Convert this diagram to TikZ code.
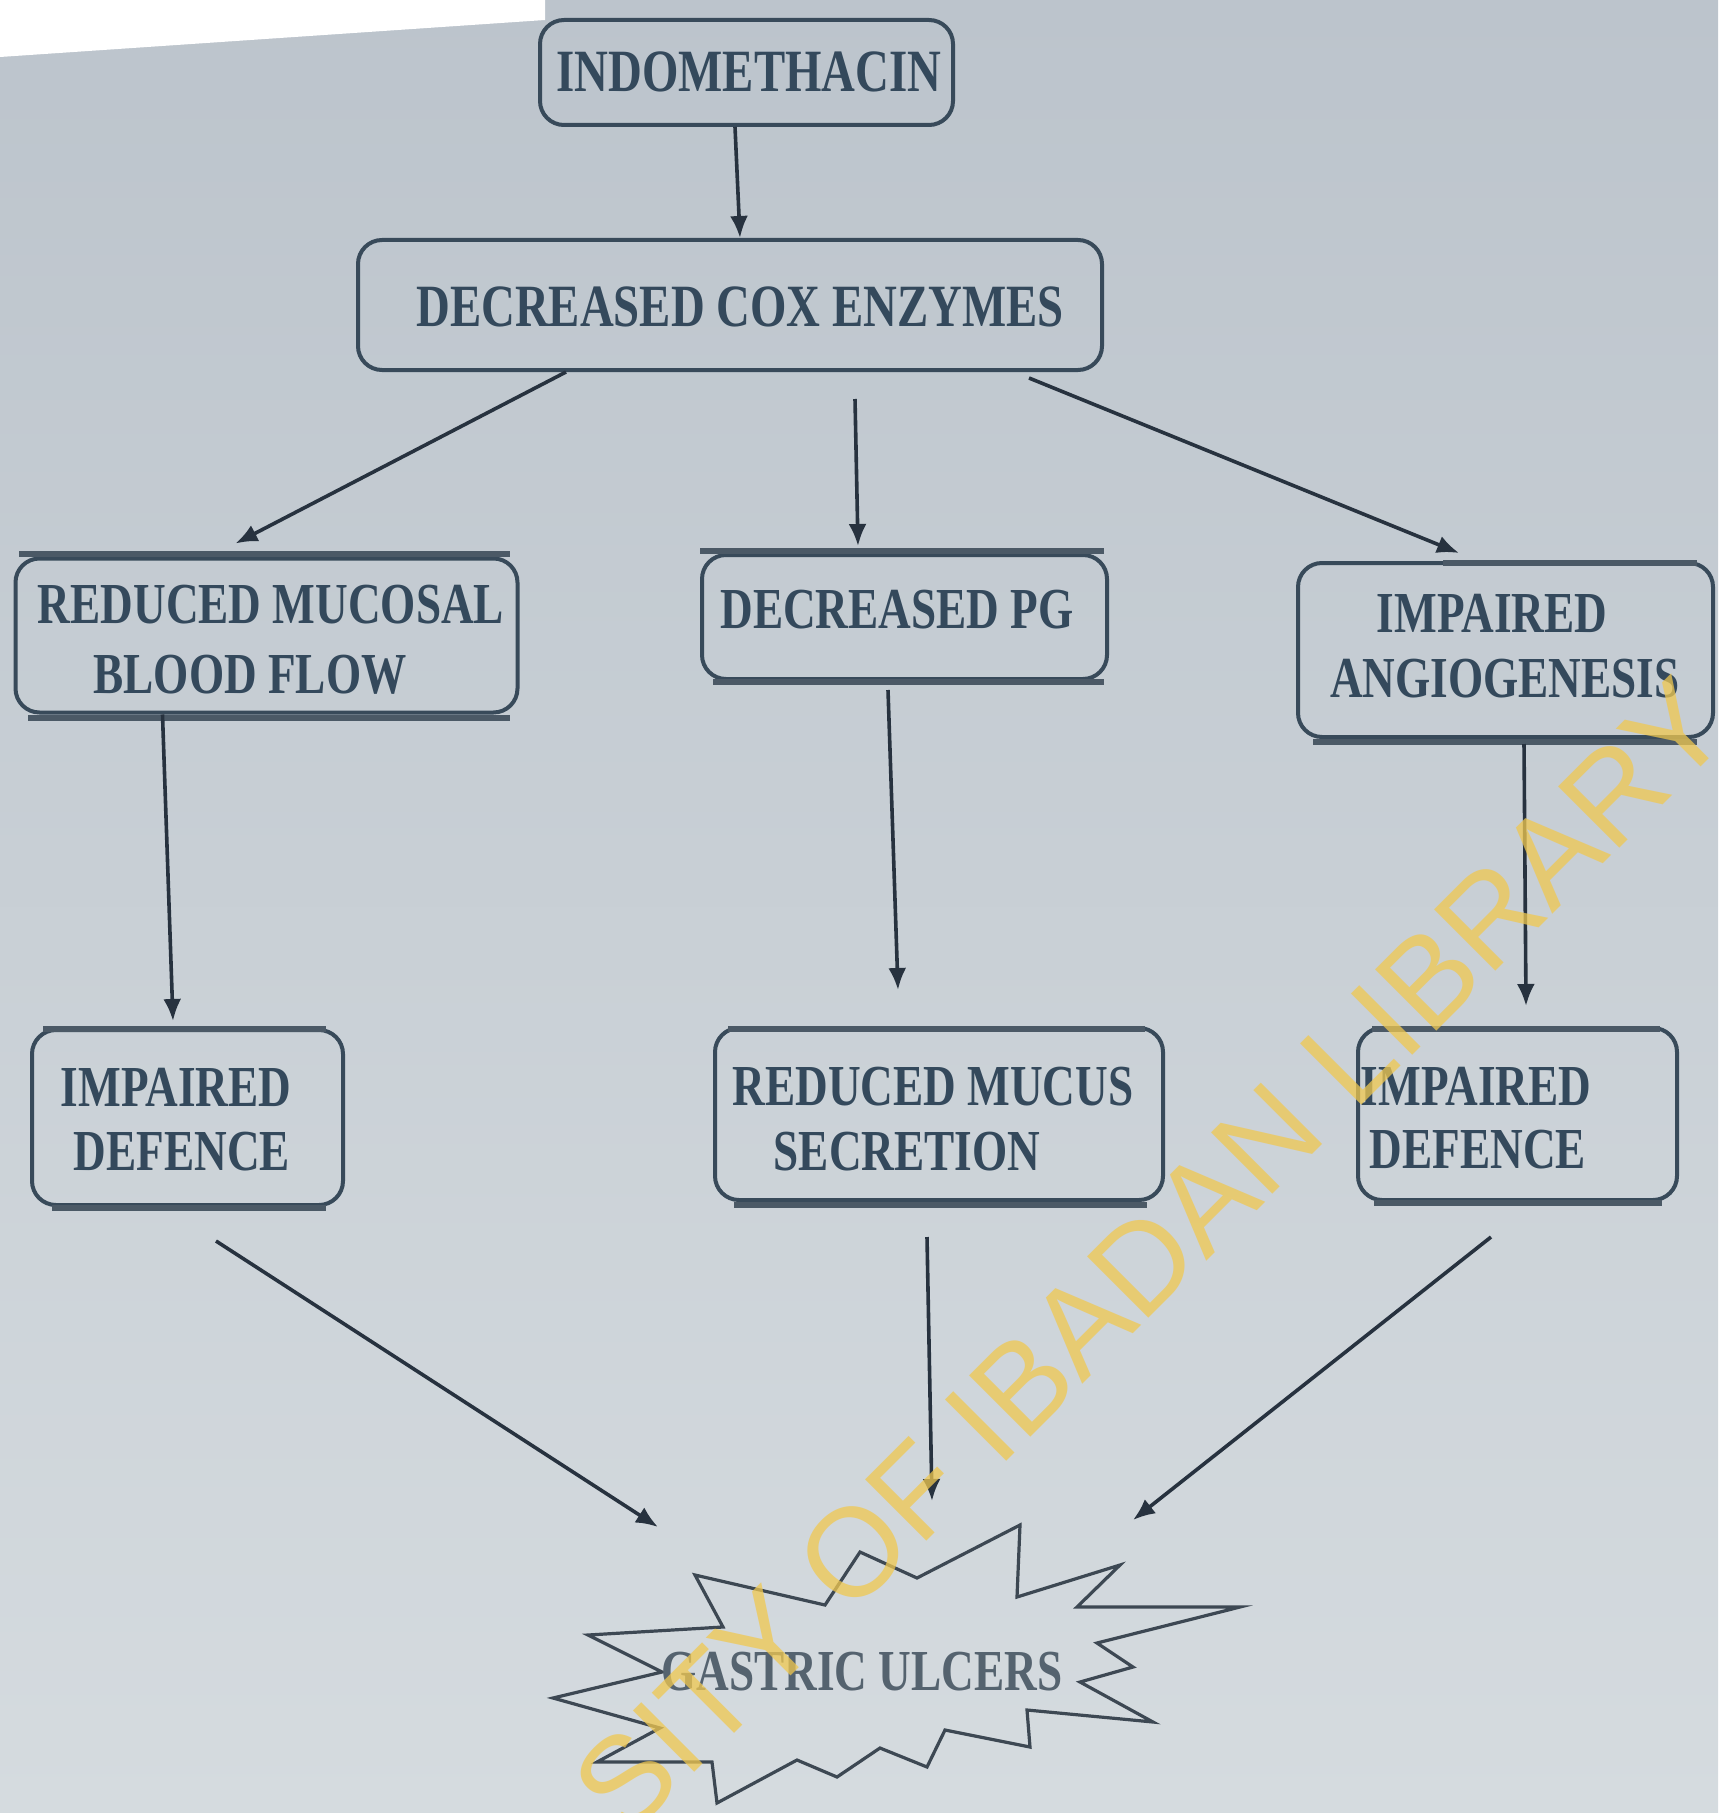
\documentclass[tikz,border=0pt]{standalone}
\usepackage{fontspec}
\newfontfamily\lblfont{Liberation Serif}[UprightFont={* Bold},FakeStretch=0.78]
\newfontfamily\wmfont{Liberation Sans}
\usetikzlibrary{arrows.meta}
\definecolor{bgtop}{HTML}{BCC4CC}
\definecolor{bgbot}{HTML}{D5DBDF}
\definecolor{boxline}{HTML}{384A5A}
\definecolor{barcol}{HTML}{4B5966}
\definecolor{txt}{HTML}{34495C}
\definecolor{txtlight}{HTML}{55636F}
\definecolor{arrcol}{HTML}{27323F}
\definecolor{starline}{HTML}{3D4853}
\definecolor{wm}{HTML}{F0C850}
\begin{document}
\begin{tikzpicture}[x=0.5pt,y=-0.5pt,
  boxnode/.style={draw=boxline,line width=2pt,rounded corners=12pt,inner sep=0pt},
  bar/.style={draw=barcol,line width=2.6pt},
  lbl/.style={text=txt,font=\lblfont\fontsize{29}{33}\selectfont,inner sep=0pt},
  arr/.style={draw=arrcol,line width=1.8pt,-{Latex[length=11pt,width=9pt]}},
]
\useasboundingbox (0,0) rectangle (1718,1813);
\shade[top color=bgtop,bottom color=bgbot] (0,0) rectangle (1718,1813);
\fill[white] (0,0) -- (545,0) -- (545,20) -- (0,57) -- cycle;

% boxes
\node[boxnode,minimum width=206.5pt,minimum height=52.5pt] (indo) at (746.5,72.5) {};
\node[boxnode,minimum width=372pt,minimum height=65pt] (cox) at (730,305) {};
\node[boxnode,minimum width=251pt,minimum height=77pt] (mucosal) at (266.5,635.5) {};
\node[boxnode,minimum width=202.5pt,minimum height=62pt] (pg) at (904.5,617) {};
\node[boxnode,minimum width=207.5pt,minimum height=87pt] (angio) at (1505.5,650) {};
\node[boxnode,minimum width=155.5pt,minimum height=87.5pt] (defL) at (187.5,1117.5) {};
\node[boxnode,minimum width=224pt,minimum height=86pt] (mucus) at (939,1114) {};
\node[boxnode,minimum width=159.5pt,minimum height=86pt] (defR) at (1517.5,1114) {};

% straight bars along box edges
\draw[bar] (19,554) -- (510,554);
\draw[bar] (28,718) -- (510,718);
\draw[bar] (700,551) -- (1104,551);
\draw[bar] (713,682) -- (1104,682);
\draw[bar] (1443,563) -- (1697,563);
\draw[bar] (1313,742) -- (1697,742);
\draw[bar] (43,1029) -- (326,1029);
\draw[bar] (52,1208) -- (326,1208);
\draw[bar] (728,1029) -- (1145,1029);
\draw[bar] (734,1205) -- (1147,1205);
\draw[bar] (1372,1029) -- (1660,1029);
\draw[bar] (1374,1203) -- (1662,1203);

% labels
\node[lbl,font=\lblfont\fontsize{30}{33}\selectfont] (tindo) at (749,72) {INDOMETHACIN};
\node[lbl,font=\lblfont\fontsize{30}{33}\selectfont] (tcox) at (740,307) {DECREASED COX ENZYMES};
\node[lbl] (tmuc1) at (271,605) {REDUCED MUCOSAL};
\node[lbl] (tmuc2) at (250,675) {BLOOD FLOW};
\node[lbl] (tpg) at (897,610) {DECREASED PG};
\node[lbl] (tang1) at (1492,613) {IMPAIRED};
\node[lbl] (tang2) at (1505,679) {ANGIOGENESIS};
\node[lbl] (tdl1) at (176,1087) {IMPAIRED};
\node[lbl] (tdl2) at (182,1152) {DEFENCE};
\node[lbl] (tms1) at (933,1087) {REDUCED MUCUS};
\node[lbl] (tms2) at (907,1152) {SECRETION};
\node[lbl] (tdr1) at (1476,1086) {IMPAIRED};
\node[lbl] (tdr2) at (1478,1150) {DEFENCE};

% star
\draw[starline,line width=1.6pt,line join=miter,miter limit=20]
  (717,1803) -- (797,1760) -- (837,1777) -- (880,1748) -- (927,1767) -- (945,1730)
  -- (1030,1747) -- (1027,1710) -- (1153,1722) -- (1080,1682) -- (1133,1667)
  -- (1097,1643) -- (1240,1607) -- (1077,1607) -- (1120,1565) -- (1017,1597)
  -- (1020,1525) -- (917,1578) -- (860,1552) -- (825,1605) -- (695,1575)
  -- (723,1627) -- (588,1635) -- (662,1672) -- (553,1698) -- (660,1728)
  -- (597,1762) -- (712,1762) -- cycle;
\node[lbl,text=txtlight] (ulcer) at (862,1672) {GASTRIC ULCERS};

% connectors
\draw[arr] ([xshift=-5.75pt]indo.south) -- ([xshift=5pt]cox.north);
\draw[arr] ([xshift=-82pt]cox.south) -- ([xshift=-15.5pt,yshift=6.5pt]mucosal.north);
\draw[arr] ([xshift=62.5pt,yshift=-13.5pt]cox.south) -- ([xshift=-23.25pt,yshift=3.5pt]pg.north);
\draw[arr] ([xshift=149.5pt,yshift=-3pt]cox.south) -- ([xshift=-23.25pt,yshift=4pt]angio.north);
\draw[arr] ([xshift=-52pt]mucosal.south) -- ([xshift=-7.25pt,yshift=3.5pt]defL.north);
\draw[arr] ([xshift=-8.25pt,yshift=-4.5pt]pg.south) -- ([xshift=-20.5pt,yshift=18pt]mucus.north);
\draw[arr] ([xshift=9.25pt,yshift=-2.5pt]angio.south) -- ([xshift=4.25pt,yshift=10pt]defR.north);
\draw[arr] ([xshift=14.25pt,yshift=-17pt]defL.south) -- ([xshift=-102pt,yshift=72.5pt]ulcer.center);
\draw[arr] ([xshift=-6pt,yshift=-17.5pt]mucus.south) -- ([xshift=35pt,yshift=85.5pt]ulcer.center);
\draw[arr] ([xshift=-13.25pt,yshift=-17.5pt]defR.south) -- ([xshift=135.5pt,yshift=76pt]ulcer.center);

% watermark
\node[rotate=45,text=wm,text opacity=0.75,inner sep=0pt,
      font=\wmfont\fontsize{63}{63}\selectfont] (wmark) at (1150,1256) {SITY OF IBADAN LIBRARY};
\end{tikzpicture}
\end{document}
